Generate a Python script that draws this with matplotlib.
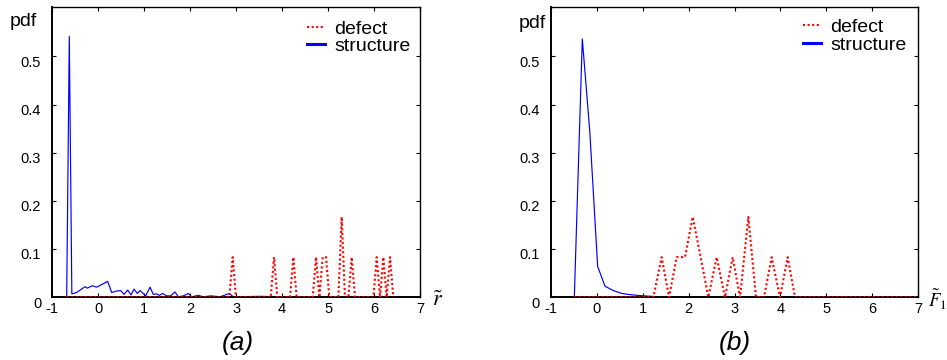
import matplotlib
matplotlib.use("Agg")
import matplotlib.pyplot as plt
from matplotlib.lines import Line2D
from matplotlib.transforms import ScaledTranslation

plt.rcParams['font.family'] = ['Liberation Sans', 'DejaVu Sans']
plt.rcParams['mathtext.fontset'] = 'stix'

# ---------------- data: panel (a) ----------------
a_struct_x = [-0.687, -0.630, -0.575, -0.470, -0.289, -0.238, -0.129, -0.035, 0.205, 0.292,
              0.401, 0.488, 0.560, 0.640, 0.712, 0.778, 0.850, 0.908, 1.032, 1.126,
              1.198, 1.271, 1.329, 1.401, 1.488, 1.576, 1.670, 1.742, 1.851, 1.960,
              2.032, 2.177, 2.286, 2.446, 2.649, 2.852, 2.939, 3.500, 4.000, 4.500,
              5.000, 5.500, 6.000, 6.420]
a_struct_y = [0.0, 0.541, 0.007, 0.010, 0.022, 0.019, 0.024, 0.021, 0.033, 0.010,
              0.013, 0.014, 0.006, 0.015, 0.005, 0.017, 0.008, 0.014, 0.003, 0.021,
              0.006, 0.007, 0.004, 0.008, 0.003, 0.003, 0.011, 0.001, 0.003, 0.008,
              0.001, 0.004, 0.001, 0.003, 0.001, 0.008, 0.001, 0.002, 0.001, 0.001,
              0.001, 0.001, 0.001, 0.001]
a_defect_x = [-0.69, 2.852, 2.924, 2.996, 3.752, 3.824, 3.896, 4.172, 4.244, 4.316,
              4.666, 4.738, 4.810, 4.883, 4.955, 5.027, 5.224, 5.296, 5.368, 5.442,
              5.514, 5.586, 5.986, 6.058, 6.130, 6.202, 6.274, 6.348, 6.420]
a_defect_y = [0, 0, 0.0833, 0, 0, 0.0833, 0, 0, 0.0833, 0,
              0, 0.0833, 0, 0.0833, 0.0833, 0, 0, 0.1667, 0, 0,
              0.0833, 0, 0, 0.0833, 0, 0.0833, 0, 0.0833, 0]

# ---------------- data: panel (b) ----------------
b_struct_x = [-0.486, -0.312, -0.150, 0.022, 0.182, 0.363, 0.545, 0.726, 1.016, 1.306,
              2.0, 3.0, 4.0, 5.0, 6.0, 7.0]
b_struct_y = [0.0, 0.536, 0.345, 0.064, 0.023, 0.014, 0.008, 0.0055, 0.003, 0.0014,
              0.001, 0.001, 0.001, 0.001, 0.001, 0.001]
b_defect_x = [-0.49, 1.234, 1.415, 1.575, 1.741, 1.923, 2.090, 2.264, 2.430, 2.612,
              2.793, 2.960, 3.120, 3.301, 3.468, 3.642, 3.809, 3.990, 4.157, 4.317, 7.0]
b_defect_y = [0, 0, 0.0833, 0, 0.0833, 0.0833, 0.1667, 0.0833, 0, 0.0833,
              0, 0.0833, 0, 0.1667, 0, 0, 0.0833, 0, 0.0833, 0, 0]

x_ticks = [-1, 0, 1, 2, 3, 4, 5, 6, 7]
x_ticklabels = ['-1', '0', '1', '2', '3', '4', '5', '6', '7']
y_ticks = [0, 0.1, 0.2, 0.3, 0.4, 0.5]
y_ticklabels = ['0', '0.1', '0.2', '0.3', '0.4', '0.5']
legend_labels = ['defect', 'structure']
panel_titles = ['(a)', '(b)']
x_labels = [r'$\tilde{r}$', r'$\tilde{F}_1$']

RED = '#ff0000'
BLUE = '#0000ff'

W, H = 947, 360
fig = plt.figure(figsize=(W / 100, H / 100), dpi=100)

def fx(px):
    return px / W

def fy(py):
    return 1 - py / H

ax_a = fig.add_axes([fx(52.3), fy(297.3), fx(420 - 52.3), (297.3 - 7.3) / H])
ax_b = fig.add_axes([fx(550.7), fy(297.3), fx(918.3 - 550.7), (297.3 - 7.3) / H])

panels = [
    (ax_a, a_struct_x, a_struct_y, a_defect_x, a_defect_y),
    (ax_b, b_struct_x, b_struct_y, b_defect_x, b_defect_y),
]

legend_anchor = [(0.6927, 0.956), (0.686, 0.962)]

for i, (ax, sx, sy, dx, dy) in enumerate(panels):
    ax.plot(sx, sy, color=BLUE, lw=0.85, zorder=2)
    ax.plot(dx, dy, color=RED, lw=1.5, linestyle=(0, (1, 1.2)), zorder=3)
    ax.set_xlim(-1, 7)
    ax.set_ylim(0, 0.6017)
    ax.set_xticks(x_ticks)
    ax.set_xticklabels(x_ticklabels)
    ax.set_yticks(y_ticks)
    ax.set_yticklabels(y_ticklabels)
    ax.tick_params(direction='in', length=3, width=0.8, top=True, right=True,
                   labelsize=10.5, colors='black')
    ax.tick_params(axis='x', pad=3.5)
    ax.tick_params(axis='y', pad=8)
    for lab in ax.get_yticklabels():
        lab.set_transform(lab.get_transform() + ScaledTranslation(0, -3.5 / 72, fig.dpi_scale_trans))
    for sp in ax.spines.values():
        sp.set_linewidth(1.0)
    ax.spines['left'].set_linewidth(1.4)
    ax.spines['bottom'].set_linewidth(1.4)

    handles = [Line2D([], [], color=RED, lw=1.5, linestyle=(0, (1, 1.2))),
               Line2D([], [], color=BLUE, lw=2.2)]
    ax.legend(handles, legend_labels, loc='upper left', bbox_to_anchor=legend_anchor[i],
              frameon=False, fontsize=14, borderpad=0, borderaxespad=0,
              handlelength=0.95, handletextpad=0.45, labelspacing=0.0)

# "pdf" labels
fig.text(fx(10), fy(21), 'pdf', fontsize=14, ha='left', va='center')
fig.text(fx(519), fy(24), 'pdf', fontsize=14, ha='left', va='center')

# x-axis labels
fig.text(fx(432), fy(301), x_labels[0], fontsize=16, ha='left', va='center')
fig.text(fx(928), fy(300), x_labels[1], fontsize=13.5, ha='left', va='center')

# panel titles
fig.text(fx(237.7), fy(343), panel_titles[0], fontsize=19, style='italic', ha='center', va='center')
fig.text(fx(735), fy(343), panel_titles[1], fontsize=19, style='italic', ha='center', va='center')

fig.savefig('out.png', dpi=100)
